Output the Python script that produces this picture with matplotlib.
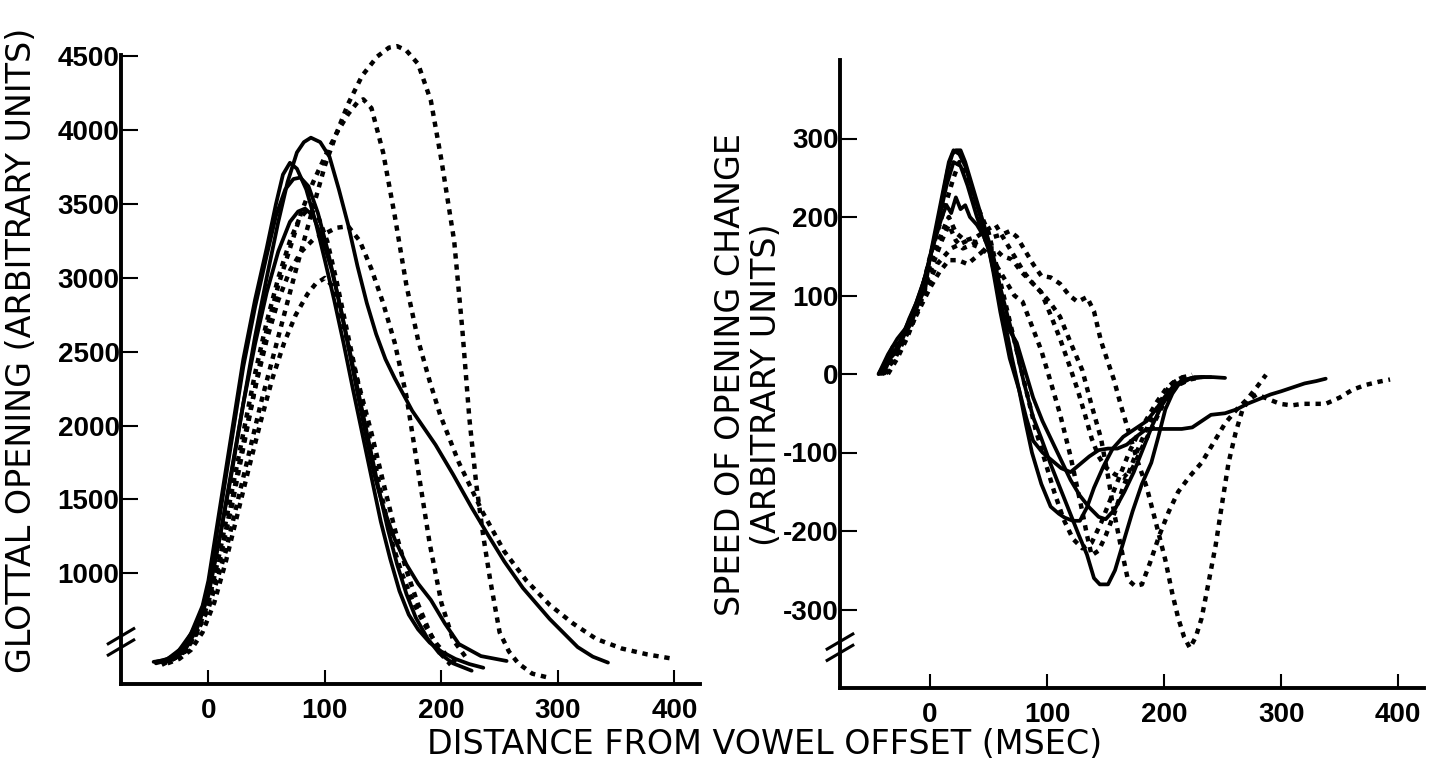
import matplotlib
matplotlib.use("Agg")
import matplotlib.pyplot as plt
from matplotlib.font_manager import FontProperties

plt.rcParams["axes.unicode_minus"] = False

# ---- left panel: glottal opening (ms, arbitrary units) ----
la_x = [-47, -38, -30, -20, -10, 0, 10, 20, 30, 40, 50, 60, 68, 76, 82, 88, 96, 104, 112, 120, 128, 136, 144, 152, 160,
        175, 195, 210, 226, 240, 254, 270, 293, 317, 330, 343]
la_y = [400, 410, 440, 520, 660, 880, 1250, 1680, 2150, 2600, 3000, 3380, 3650, 3850, 3920, 3950, 3920, 3820, 3600, 3360,
        3080, 2830, 2620, 2450, 2320, 2100, 1870, 1670, 1445, 1260, 1080, 900, 690, 500, 435, 395]

lb_x = [-45, -35, -25, -15, -5, 0, 10, 20, 30, 40, 50, 58, 64, 70, 76, 84, 92, 100, 108, 116, 124, 132, 140, 148, 156,
        164, 172, 180, 190, 200, 212, 224, 236]
lb_y = [400, 420, 480, 590, 780, 950, 1450, 1950, 2450, 2850, 3200, 3500, 3700, 3780, 3740, 3600, 3380, 3120, 2850, 2560,
        2250, 1950, 1650, 1350, 1100, 880, 720, 620, 530, 470, 420, 385, 360]

lc_x = [-45, -35, -25, -15, -5, 0, 10, 20, 30, 40, 50, 58, 66, 73, 79, 86, 94, 102, 110, 118, 126, 134, 142, 150, 160,
        170, 180, 191, 203, 215, 234, 256]
lc_y = [390, 410, 460, 570, 760, 920, 1400, 1900, 2400, 2800, 3150, 3420, 3600, 3670, 3680, 3620, 3440, 3200, 2920, 2620,
        2300, 1980, 1680, 1450, 1230, 1060, 930, 819, 660, 521, 439, 406]

ld_x = [-40, -30, -20, -10, 0, 10, 20, 30, 40, 50, 60, 70, 77, 83, 90, 98, 106, 114, 122, 130, 138, 146, 154, 162, 170,
        178, 188, 198, 210, 226]
ld_y = [400, 420, 480, 620, 850, 1250, 1700, 2150, 2550, 2900, 3180, 3380, 3450, 3470, 3420, 3260, 3050, 2780, 2480, 2180,
        1880, 1580, 1300, 1060, 860, 700, 560, 460, 390, 340]

le_x = [-38, -30, -20, -10, 0, 10, 20, 30, 40, 50, 60, 70, 78, 86, 94, 102, 110, 118, 126, 134, 142, 150, 158, 166, 175,
        185, 195, 205, 215]
le_y = [400, 420, 470, 600, 800, 1150, 1550, 1950, 2350, 2700, 3000, 3250, 3400, 3470, 3420, 3250, 2980, 2680, 2380, 2080,
        1780, 1480, 1200, 1000, 820, 660, 530, 440, 390]

lf_x = [-35, -25, -15, -5, 5, 15, 25, 35, 45, 55, 65, 75, 85, 92, 100, 106, 112, 120, 130, 140, 150, 160, 170, 180, 190,
        200, 208]
lf_y = [390, 420, 480, 600, 800, 1080, 1400, 1720, 2030, 2320, 2560, 2750, 2890, 2960, 3000, 2950, 2800, 2550, 2250, 1950,
        1620, 1300, 1020, 790, 600, 450, 380]

lg_x = [-40, -30, -20, -10, 0, 10, 20, 30, 40, 50, 60, 70, 80, 90, 100, 110, 120, 130, 140, 150, 160, 170, 180, 190, 200,
        210, 222]
lg_y = [400, 420, 470, 590, 780, 1100, 1480, 1880, 2250, 2580, 2850, 3050, 3180, 3260, 3300, 3340, 3350, 3250, 3060, 2830,
        2560, 2200, 1700, 1200, 800, 550, 420]

lh_x = [-40, -30, -20, -10, 0, 10, 20, 30, 40, 50, 60, 70, 80, 90, 100, 110, 120, 128, 133, 140, 150, 160, 170, 180, 190,
        199, 215, 235, 254, 273, 293, 313, 333, 355, 377, 398]
lh_y = [390, 420, 480, 600, 800, 1100, 1450, 1850, 2250, 2650, 2950, 3200, 3450, 3650, 3820, 3980, 4110, 4190, 4210, 4150,
        3850, 3420, 2950, 2580, 2300, 2072, 1750, 1420, 1148, 950, 786, 660, 555, 490, 450, 422]

li_x = [-40, -25, -10, 0, 15, 30, 45, 60, 75, 90, 100, 110, 120, 132, 145, 155, 162, 170, 180, 191, 200, 211, 218, 224,
        230, 236, 242, 250, 258, 266, 278, 291]
li_y = [380, 440, 600, 760, 1150, 1650, 2150, 2600, 3050, 3480, 3760, 3980, 4180, 4370, 4500, 4560, 4570, 4540, 4450,
        4200, 3800, 3250, 2650, 2050, 1600, 1250, 950, 600, 470, 390, 320, 295]

# ---- right panel: speed of opening change ----
s1_x = [-44, -38, -32, -26, -20, -14, -8, -2, 4, 10, 15, 19, 22, 26, 30, 36, 42, 48, 54, 60, 66, 72, 80, 88, 95, 103,
        111, 119, 127, 134, 140, 145, 152, 158, 165, 173, 181, 189, 195, 201, 207, 212, 222, 232, 242, 252]
s1_y = [0, 15, 35, 40, 62, 80, 105, 135, 175, 220, 260, 280, 285, 285, 270, 240, 210, 180, 150, 110, 75, 42, -10, -55,
        -82, -115, -145, -175, -205, -230, -260, -268, -268, -250, -215, -175, -140, -113, -80, -45, -25, -14, -6, -4, -4, -5]

s2_x = [-42, -36, -30, -24, -18, -12, -6, 0, 6, 12, 16, 20, 25, 30, 36, 42, 48, 54, 60, 68, 76, 82, 87, 95, 103, 110,
        115, 122, 128, 134, 140, 148, 156, 165, 175, 185, 193, 200, 208, 216, 226, 240]
s2_y = [0, 20, 30, 45, 70, 90, 115, 150, 195, 240, 270, 285, 280, 265, 235, 205, 175, 130, 79, 20, -20, -65, -100, -140,
        -169, -178, -183, -187, -187, -170, -145, -118, -95, -80, -70, -60, -45, -30, -15, -8, -4, -4]

s3_x = [-40, -34, -28, -22, -16, -10, -4, 0, 5, 10, 14, 18, 22, 26, 30, 34, 40, 46, 52, 58, 64, 70, 76, 82, 88, 96, 104,
        112, 120, 128, 136, 144, 152, 160, 168, 176, 185, 195, 205, 215, 224, 232, 240, 252, 262, 271, 281, 291, 300, 310,
        320, 330, 338]
s3_y = [0, 20, 30, 50, 65, 90, 110, 150, 175, 200, 215, 205, 225, 210, 215, 200, 190, 175, 150, 110, 65, 20, -20, -55,
        -85, -100, -110, -120, -125, -115, -105, -97, -95, -95, -90, -80, -70, -70, -70, -70, -68, -60, -52, -50, -45, -38,
        -32, -26, -22, -17, -12, -9, -6]

s4_x = [-44, -36, -28, -20, -12, -4, 2, 8, 14, 20, 26, 32, 40, 50, 56, 62, 68, 74, 80, 88, 96, 104, 112, 120, 128, 136,
        144, 150, 158, 166, 174, 182, 190, 198, 206, 214, 224, 234]
s4_y = [0, 25, 45, 60, 90, 125, 160, 200, 240, 270, 265, 240, 200, 160, 120, 80, 55, 40, 10, -30, -60, -85, -110, -135,
        -155, -170, -182, -185, -172, -150, -125, -95, -65, -40, -22, -10, -5, -4]

d1_x = [-40, -32, -24, -16, -8, 0, 6, 12, 18, 25, 32, 40, 48, 55, 62, 68, 74, 80, 88, 95, 103, 111, 119, 126, 134, 140,
        146, 152, 157, 163, 169, 177, 185, 193, 201, 207, 212, 217, 222, 227, 232, 238, 244, 250, 255, 261, 267, 273, 279,
        289, 299, 309, 318, 328, 338, 350, 361, 372, 383, 393]
d1_y = [0, 25, 45, 70, 95, 120, 140, 150, 160, 165, 170, 168, 172, 175, 178, 182, 175, 160, 140, 125, 123, 115, 100, 92,
        98, 80, 42, 15, -7, -40, -70, -110, -144, -190, -237, -280, -311, -335, -349, -335, -311, -265, -218, -160, -113,
        -75, -45, -32, -26, -32, -38, -40, -38, -38, -38, -30, -20, -14, -10, -7]

d2_x = [-40, -30, -20, -10, 0, 8, 16, 24, 32, 40, 48, 55, 62, 70, 78, 86, 95, 103, 111, 120, 130, 138, 146, 152, 157,
        163, 169, 175, 181, 188, 196, 204, 212, 222, 232, 242, 252, 262, 271, 280, 287]
d2_y = [0, 20, 50, 80, 110, 130, 145, 145, 140, 150, 160, 160, 150, 146, 130, 118, 104, 90, 73, 40, 5, -40, -82, -130,
        -175, -220, -262, -270, -268, -240, -205, -175, -150, -130, -113, -88, -63, -45, -32, -15, -1]

d3_x = [-38, -30, -22, -14, -6, 0, 10, 16, 22, 28, 36, 44, 52, 60, 66, 72, 79, 86, 95, 103, 111, 120, 125, 130, 134, 138,
        144, 150, 158, 165, 175, 185, 195, 205, 214, 224]
d3_y = [0, 25, 45, 70, 100, 130, 170, 190, 170, 160, 165, 160, 150, 130, 115, 100, 92, 65, 30, -10, -51, -105, -140, -175,
        -205, -231, -225, -206, -175, -144, -105, -70, -40, -14, -5, -1]

d4_x = [-36, -28, -20, -12, -4, 0, 10, 16, 22, 30, 40, 50, 56, 64, 72, 80, 88, 95, 103, 111, 119, 126, 132, 138, 144, 150,
        158, 165, 173, 181, 189, 197, 205, 212, 222, 232]
d4_y = [0, 20, 45, 75, 110, 140, 180, 200, 180, 170, 175, 185, 190, 170, 150, 130, 115, 104, 75, 45, 11, -20, -50, -82,
        -105, -119, -128, -132, -120, -94, -70, -45, -25, -14, -7, -4]

d5_x = [-40, -32, -24, -16, -8, 0, 10, 20, 25, 30, 40, 50, 58, 66, 74, 82, 90, 98, 106, 114, 122, 130, 138, 146, 154, 162,
        170, 178, 186, 194, 202, 210, 218]
d5_y = [0, 20, 40, 65, 100, 150, 200, 250, 270, 255, 215, 180, 130, 80, 30, -20, -70, -110, -150, -185, -210, -222, -215,
        -190, -160, -130, -100, -75, -55, -35, -18, -8, -3]

left_solid = [(la_x, la_y), (lb_x, lb_y), (lc_x, lc_y), (ld_x, ld_y)]
left_dotted = [(le_x, le_y), (lf_x, lf_y), (lg_x, lg_y), (lh_x, lh_y), (li_x, li_y)]
right_solid = [(s1_x, s1_y), (s2_x, s2_y), (s3_x, s3_y), (s4_x, s4_y)]
right_dotted = [(d1_x, d1_y), (d2_x, d2_y), (d3_x, d3_y), (d4_x, d4_y), (d5_x, d5_y)]

x_ticks = [0, 100, 200, 300, 400]
left_yticks = [1000, 1500, 2000, 2500, 3000, 3500, 4000, 4500]
right_yticks = [-300, -200, -100, 0, 100, 200, 300]

W, H = 1439, 765
fig = plt.figure(figsize=(W / 100, H / 100), dpi=100)

ax1 = fig.add_axes([121 / W, 1 - 684 / H, (700 - 121) / W, (684 - 55) / H])
ax2 = fig.add_axes([840 / W, 1 - 688 / H, (1424 - 840) / W, (688 - 60) / H])

dot_style = dict(color="black", lw=3.2, linestyle=(0, (1.2, 1.3)), dash_capstyle="butt", clip_on=False)
solid_style = dict(color="black", lw=2.7, solid_capstyle="round", clip_on=False)

for x, y in left_solid:
    ax1.plot(x, y, **solid_style)
for x, y in left_dotted:
    ax1.plot(x, y, **dot_style)
for x, y in right_solid:
    ax2.plot(x, y, **solid_style)
for x, y in right_dotted:
    ax2.plot(x, y, **dot_style)

ax1.set_xlim(-75, 422)
ax1.set_ylim(250, 4510)
ax2.set_xlim(-77, 422)
ax2.set_ylim(-400, 400)
ax1.set_yticks(left_yticks)
ax2.set_yticks(right_yticks)

tick_font = FontProperties(family="Liberation Sans", size=20, weight="bold")
for ax in (ax1, ax2):
    ax.set_xticks(x_ticks)
    for s in ("top", "right"):
        ax.spines[s].set_visible(False)
    for s in ("left", "bottom"):
        ax.spines[s].set_linewidth(2.8)
    ax.tick_params(axis="y", direction="in", length=12, width=1.5, pad=1)
    ax.tick_params(axis="x", direction="in", length=10, width=1.5, pad=10)
    for lab in ax.get_xticklabels() + ax.get_yticklabels():
        lab.set_fontproperties(tick_font)
    ax.patch.set_visible(False)

# axis break marks
for ax, yb in ((ax1, 0.067), (ax2, 0.065)):
    for dy in (-0.009, 0.009):
        ax.plot([-0.022, 0.022], [yb + dy - 0.012, yb + dy + 0.012], transform=ax.transAxes,
                color="black", lw=2.2, clip_on=False)

label_font = dict(family="DejaVu Sans", size=24)
fig.text(22 / W, 1 - 350 / H, "GLOTTAL OPENING (ARBITRARY UNITS)", rotation=90,
         ha="center", va="center", **label_font)
fig.text(731 / W, 1 - 375 / H, "SPEED OF OPENING CHANGE", rotation=90,
         ha="center", va="center", **label_font)
fig.text(767 / W, 1 - 385 / H, "(ARBITRARY UNITS)", rotation=90,
         ha="center", va="center", **label_font)
fig.text(765 / W, 1 - 745 / H, "DISTANCE FROM VOWEL OFFSET (MSEC)",
         ha="center", va="center", **label_font)

fig.savefig("out.png", dpi=100)
